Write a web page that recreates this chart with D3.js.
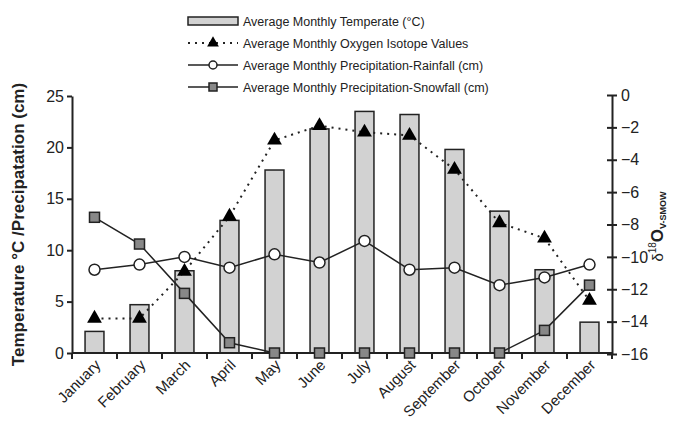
<!DOCTYPE html>
<html>
<head>
<meta charset="utf-8">
<script src="https://cdn.jsdelivr.net/npm/d3@7"></script>
<style>
  body { margin: 0; background: #fff; }
  svg text { font-family: "Liberation Sans", Arial, Helvetica, sans-serif; fill: #222; }
</style>
</head>
<body>
<div id="container"></div>
<script>
const months = ["January", "February", "March", "April", "May", "June", "July",
                "August", "September", "October", "November", "December"];
const temperature = [2.1, 4.7, 8.0, 12.9, 17.8, 21.8, 23.5, 23.2, 19.8, 13.8, 8.1, 3.0];
const isotope = [-13.8, -13.8, -10.9, -7.5, -2.8, -1.9, -2.3, -2.5, -4.6, -7.9, -8.85, -12.7];
const rainfall = [8.1, 8.6, 9.35, 8.3, 9.6, 8.8, 10.9, 8.1, 8.3, 6.6, 7.35, 8.6];
const snowfall = [13.2, 10.6, 5.8, 1.0, 0, 0, 0, 0, 0, 0, 2.2, 6.6];
const leftTicks = [0, 5, 10, 15, 20, 25];
const rightTicks = [0, -2, -4, -6, -8, -10, -12, -14, -16];
const legendLabels = [
  "Average Monthly Temperate (\u00b0C)",
  "Average Monthly Oxygen Isotope Values",
  "Average Monthly Precipitation-Rainfall (cm)",
  "Average Monthly Precipitation-Snowfall (cm)"
];

const width = 673, height = 421;
const plot = { left: 72, right: 612, top: 96, bottom: 353 };
const ink = "#222";

const svg = d3.select("#container")
  .append("svg")
    .attr("width", width)
    .attr("height", height);

const x = d3.scaleBand().domain(months).range([plot.left, plot.right]);
const y = d3.scaleLinear().domain([0, 25]).range([plot.bottom, plot.top]);
const y2 = d3.scaleLinear().domain([-16, 0]).range([plot.bottom + 1, plot.top - 1]);
const cx = m => x(m) + x.bandwidth() / 2;

// Bars (temperature)
const barW = x.bandwidth() * 0.42;
svg.append("g").selectAll("rect")
  .data(months)
  .enter().append("rect")
    .attr("x", m => cx(m) - barW / 2)
    .attr("y", (m, i) => y(temperature[i]))
    .attr("width", barW)
    .attr("height", (m, i) => plot.bottom - y(temperature[i]))
    .attr("fill", "#d2d2d2")
    .attr("stroke", ink)
    .attr("stroke-width", 1.5);

// Axes
const leftAxis = svg.append("g")
  .attr("transform", `translate(${plot.left},0)`)
  .call(d3.axisLeft(y).tickValues(leftTicks).tickSize(5).tickSizeOuter(0));
leftAxis.select(".domain").attr("stroke", ink).attr("stroke-width", 2);
leftAxis.selectAll(".tick line").attr("stroke", ink).attr("stroke-width", 2);
leftAxis.selectAll(".tick text").attr("font-size", 16).attr("x", -8).attr("fill", ink);

const rightAxis = svg.append("g")
  .attr("transform", `translate(${plot.right},0)`)
  .call(d3.axisRight(y2).tickValues(rightTicks).tickSize(5).tickSizeOuter(0));
rightAxis.select(".domain").attr("stroke", ink).attr("stroke-width", 2);
rightAxis.selectAll(".tick line").attr("stroke", ink).attr("stroke-width", 2).attr("x1", -5);
rightAxis.selectAll(".tick text").attr("font-size", 16).attr("x", 9).attr("fill", ink);

// x axis with ticks at band boundaries
const xAxis = svg.append("g");
xAxis.append("line")
  .attr("x1", plot.left).attr("x2", plot.right)
  .attr("y1", plot.bottom).attr("y2", plot.bottom)
  .attr("stroke", ink).attr("stroke-width", 2);
const bounds = months.map(m => x(m)).concat([plot.right]);
xAxis.selectAll("line.b")
  .data(bounds)
  .enter().append("line")
    .attr("class", "b")
    .attr("x1", d => d).attr("x2", d => d)
    .attr("y1", plot.bottom).attr("y2", plot.bottom + 6)
    .attr("stroke", ink).attr("stroke-width", 2);
xAxis.selectAll("text")
  .data(months)
  .enter().append("text")
    .attr("transform", m => `translate(${cx(m) + 7},${plot.bottom + 13}) rotate(-45)`)
    .attr("text-anchor", "end")
    .attr("font-size", 15)
    .text(m => m);

// Isotope dotted line
svg.append("path")
  .datum(isotope)
  .attr("fill", "none")
  .attr("stroke", ink)
  .attr("stroke-width", 2)
  .attr("stroke-dasharray", "2,5")
  .attr("d", d3.line().x((d, i) => cx(months[i])).y(d => y2(d)));

// Rainfall and snowfall lines
[rainfall, snowfall].forEach(series => {
  svg.append("path")
    .datum(series)
    .attr("fill", "none")
    .attr("stroke", ink)
    .attr("stroke-width", 1.5)
    .attr("d", d3.line().x((d, i) => cx(months[i])).y(d => y(d)));
});

// Markers
const tri = d3.symbol().type(d3.symbolTriangle).size(95);
svg.append("g").selectAll("path")
  .data(isotope)
  .enter().append("path")
    .attr("d", tri)
    .attr("transform", (d, i) => `translate(${cx(months[i])},${y2(d)})`)
    .attr("fill", "#000");

svg.append("g").selectAll("circle")
  .data(rainfall)
  .enter().append("circle")
    .attr("cx", (d, i) => cx(months[i]))
    .attr("cy", d => y(d))
    .attr("r", 5.5)
    .attr("fill", "#fff")
    .attr("stroke", ink)
    .attr("stroke-width", 1.5);

const sq = 10;
svg.append("g").selectAll("rect")
  .data(snowfall)
  .enter().append("rect")
    .attr("x", (d, i) => cx(months[i]) - sq / 2)
    .attr("y", d => y(d) - sq / 2)
    .attr("width", sq)
    .attr("height", sq)
    .attr("fill", "#888")
    .attr("stroke", ink)
    .attr("stroke-width", 1.5);

// Axis titles
svg.append("text")
  .attr("transform", `translate(24,${(plot.top + plot.bottom) / 2}) rotate(-90)`)
  .attr("text-anchor", "middle")
  .attr("font-size", 17)
  .attr("font-weight", "bold")
  .text("Temperature \u00b0C /Precipatation (cm)");

const rt = svg.append("text")
  .attr("transform", `translate(663,${(plot.top + plot.bottom) / 2 + 2}) rotate(-90)`)
  .attr("text-anchor", "middle")
  .attr("font-size", 15);
rt.append("tspan").text("\u03b4");
rt.append("tspan").attr("font-size", 10).attr("dy", -7).text("18");
rt.append("tspan").attr("font-size", 17).attr("font-weight", "bold").attr("dy", 7).text("O");
rt.append("tspan").attr("font-size", 9).attr("font-weight", "bold").attr("dy", 3).text("V-SMOW");

// Legend
const legend = svg.append("g");
const lx0 = 188, lx1 = 238, lmid = (lx0 + lx1) / 2;
const rowY = [21, 43, 65, 87];

legend.append("rect")
  .attr("x", lx0).attr("y", rowY[0] - 4)
  .attr("width", lx1 - lx0).attr("height", 8)
  .attr("fill", "#d2d2d2").attr("stroke", ink).attr("stroke-width", 1.5);

legend.append("line")
  .attr("x1", lx0).attr("x2", lx1).attr("y1", rowY[1]).attr("y2", rowY[1])
  .attr("stroke", ink).attr("stroke-width", 2).attr("stroke-dasharray", "2,5");
legend.append("path")
  .attr("d", d3.symbol().type(d3.symbolTriangle).size(60))
  .attr("transform", `translate(${lmid},${rowY[1]})`)
  .attr("fill", "#000");

legend.append("line")
  .attr("x1", lx0).attr("x2", lx1).attr("y1", rowY[2]).attr("y2", rowY[2])
  .attr("stroke", ink).attr("stroke-width", 1.5);
legend.append("circle")
  .attr("cx", lmid).attr("cy", rowY[2]).attr("r", 4)
  .attr("fill", "#fff").attr("stroke", ink).attr("stroke-width", 1.5);

legend.append("line")
  .attr("x1", lx0).attr("x2", lx1).attr("y1", rowY[3]).attr("y2", rowY[3])
  .attr("stroke", ink).attr("stroke-width", 1.5);
legend.append("rect")
  .attr("x", lmid - 4).attr("y", rowY[3] - 4).attr("width", 8).attr("height", 8)
  .attr("fill", "#888").attr("stroke", ink).attr("stroke-width", 1.5);

legend.selectAll("text.lab")
  .data(legendLabels)
  .enter().append("text")
    .attr("class", "lab")
    .attr("x", 243)
    .attr("y", (d, i) => rowY[i] + 4.5)
    .attr("font-size", 12.5)
    .text(d => d);
</script>
</body>
</html>
